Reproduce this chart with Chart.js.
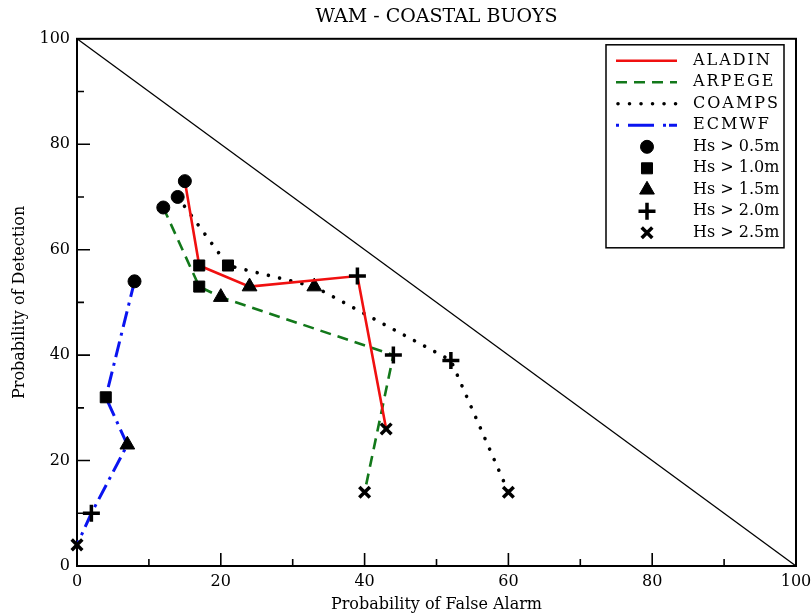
<!DOCTYPE html>
<html>
<head>
<meta charset="utf-8">
<script src="https://cdn.jsdelivr.net/npm/chart.js@4.4.1/dist/chart.umd.min.js"></script>
<style>
  html, body { margin: 0; padding: 0; background: #fff; }
  #wrap { width: 811px; height: 616px; }
</style>
</head>
<body>
<div id="wrap"><canvas id="c" width="811" height="616"></canvas></div>
<script>
// ---- Data ----
const thresholds = ['Hs > 0.5m', 'Hs > 1.0m', 'Hs > 1.5m', 'Hs > 2.0m', 'Hs > 2.5m'];
const aladinX = [15, 17, 24, 39, 43];
const aladinY = [73, 57, 53, 55, 26];
const arpegeX = [12, 17, 20, 44, 40];
const arpegeY = [68, 53, 51, 40, 14];
const coampsX = [14, 21, 33, 52, 60];
const coampsY = [70, 57, 53, 39, 14];
const ecmwfX = [8, 4, 7, 2, 0];
const ecmwfY = [54, 32, 23, 10, 4];
const diagX = [0, 100];
const diagY = [100, 0];
const axisTicks = [0, 20, 40, 60, 80, 100];

const FONT = "'DejaVu Serif', 'Liberation Serif', serif";
const markerStyles = ['circle', 'rect', 'triangle', 'cross', 'crossRot'];
const markerRadius = [6.5, 7.8, 8.5, 8.5, 7.5];
const markerBorder = [1, 1, 1, 3.5, 3.5];

const zip = (xs, ys) => xs.map((x, i) => ({ x: x, y: ys[i] }));

const models = [
  { label: 'ALADIN', xs: aladinX, ys: aladinY, color: '#f01010', dash: [], width: 2.6, cap: 'butt' },
  { label: 'ARPEGE', xs: arpegeX, ys: arpegeY, color: '#12781a', dash: [11, 7], width: 2.6, cap: 'butt' },
  { label: 'COAMPS', xs: coampsX, ys: coampsY, color: '#000000', dash: [0.01, 11.5], width: 3.6, cap: 'round' },
  { label: 'ECMWF', xs: ecmwfX, ys: ecmwfY, color: '#0a14f0', dash: [16, 6, 3, 6], width: 3, cap: 'butt' }
];

const datasets = [{
  label: 'diag',
  data: zip(diagX, diagY),
  showLine: true,
  borderColor: '#000',
  borderWidth: 1.3,
  pointRadius: 0,
  clip: false,
  order: 10
}];
models.forEach(m => {
  datasets.push({
    label: m.label,
    data: zip(m.xs, m.ys),
    showLine: true,
    borderColor: m.color,
    borderWidth: m.width,
    borderDash: m.dash,
    borderCapStyle: m.cap,
    pointStyle: markerStyles,
    pointRadius: markerRadius,
    pointHoverRadius: markerRadius,
    pointBorderWidth: markerBorder,
    pointBackgroundColor: '#000',
    pointBorderColor: '#000',
    clip: false
  });
});

function drawMarker(ctx, style, x, y, r, bw) {
  ctx.save();
  ctx.fillStyle = '#000';
  ctx.strokeStyle = '#000';
  ctx.lineWidth = bw;
  ctx.setLineDash([]);
  ctx.beginPath();
  if (style === 'circle') {
    ctx.arc(x, y, r, 0, Math.PI * 2);
    ctx.fill(); ctx.stroke();
  } else if (style === 'rect') {
    const s = Math.SQRT1_2 * r;
    ctx.rect(x - s, y - s, 2 * s, 2 * s);
    ctx.fill(); ctx.stroke();
  } else if (style === 'triangle') {
    for (let k = 0; k < 3; k++) {
      const a = -Math.PI / 2 + k * 2 * Math.PI / 3;
      const px = x + Math.cos(a) * r, py = y + Math.sin(a) * r;
      if (k === 0) ctx.moveTo(px, py); else ctx.lineTo(px, py);
    }
    ctx.closePath();
    ctx.fill(); ctx.stroke();
  } else if (style === 'cross') {
    ctx.moveTo(x - r, y); ctx.lineTo(x + r, y);
    ctx.moveTo(x, y - r); ctx.lineTo(x, y + r);
    ctx.stroke();
  } else {
    const d = Math.SQRT1_2 * r;
    ctx.moveTo(x - d, y - d); ctx.lineTo(x + d, y + d);
    ctx.moveTo(x - d, y + d); ctx.lineTo(x + d, y - d);
    ctx.stroke();
  }
  ctx.restore();
}

const framePlugin = {
  id: 'frame',
  beforeDatasetsDraw(chart) {
    const { ctx, chartArea: a, scales } = chart;
    ctx.save();
    ctx.strokeStyle = '#000';
    ctx.lineWidth = 2;
    ctx.strokeRect(a.left, a.top, a.right - a.left, a.bottom - a.top);
    ctx.lineWidth = 1.6;
    ctx.beginPath();
    for (let v = 0; v <= 100; v += 10) {
      const len = (v % 20 === 0) ? 13 : 7;
      const px = scales.x.getPixelForValue(v);
      ctx.moveTo(px, a.bottom); ctx.lineTo(px, a.bottom - len);
      const py = scales.y.getPixelForValue(v);
      ctx.moveTo(a.left, py); ctx.lineTo(a.left + len, py);
    }
    ctx.stroke();
    ctx.restore();
  }
};

const legendPlugin = {
  id: 'boxLegend',
  afterDatasetsDraw(chart) {
    const { ctx, chartArea: a } = chart;
    const bx = a.right - 190, by = a.top + 6, bw = 178, bh = 203;
    ctx.save();
    ctx.fillStyle = '#fff';
    ctx.fillRect(bx, by, bw, bh);
    ctx.strokeStyle = '#000';
    ctx.lineWidth = 1.5;
    ctx.strokeRect(bx, by, bw, bh);
    const rowH = 21.5;
    const y0 = by + 16;
    const lx0 = bx + 10, lx1 = bx + 71, mx = bx + 41, tx = bx + 87;
    ctx.font = '16px ' + FONT;
    ctx.textBaseline = 'middle';
    ctx.textAlign = 'left';
    try { ctx.letterSpacing = '2px'; } catch (e) {}
    models.forEach((m, i) => {
      const y = y0 + i * rowH;
      ctx.save();
      ctx.strokeStyle = m.color;
      ctx.lineWidth = m.width;
      ctx.lineCap = m.cap;
      ctx.setLineDash(m.label === 'ECMWF' ? [3, 9, 26, 9, 3] : (m.label === 'COAMPS' ? [0.01, 11.5] : m.dash));
      ctx.beginPath();
      ctx.moveTo(lx0 + (m.label === 'COAMPS' ? 2 : 0), y);
      ctx.lineTo(lx1, y);
      ctx.stroke();
      ctx.restore();
      ctx.fillStyle = '#000';
      ctx.fillText(m.label, tx, y);
    });
    try { ctx.letterSpacing = '0px'; } catch (e) {}
    thresholds.forEach((t, j) => {
      const y = y0 + (models.length + j) * rowH;
      drawMarker(ctx, markerStyles[j], mx, y, markerRadius[j], markerBorder[j]);
      ctx.fillStyle = '#000';
      ctx.fillText(t, tx, y);
    });
    ctx.restore();
  }
};

new Chart(document.getElementById('c'), {
  type: 'scatter',
  data: { datasets: datasets },
  plugins: [framePlugin, legendPlugin],
  options: {
    responsive: false,
    animation: false,
    events: [],
    layout: { padding: { left: 0, right: 15, top: 0, bottom: 0 } },
    plugins: {
      legend: { display: false },
      tooltip: { enabled: false },
      title: {
        display: true,
        text: 'WAM - COASTAL BUOYS',
        fullSize: false,
        color: '#000',
        font: { family: FONT, size: 19, weight: 'normal', lineHeight: 1.2 },
        padding: { top: 6, bottom: 10 }
      }
    },
    scales: {
      x: {
        type: 'linear',
        min: 0, max: 100,
        afterBuildTicks: s => { s.ticks = axisTicks.map(v => ({ value: v })); },
        afterFit: s => { s.height = 50; s.paddingRight = 0; s.paddingLeft = 0; },
        grid: { display: false, drawTicks: false },
        border: { display: false },
        ticks: { color: '#000', padding: 6, maxRotation: 0, font: { family: FONT, size: 16 } },
        title: {
          display: true, text: 'Probability of False Alarm', color: '#000',
          font: { family: FONT, size: 16, lineHeight: 1.2 }, padding: { top: 0, bottom: 2 }
        }
      },
      y: {
        type: 'linear',
        min: 0, max: 100,
        afterBuildTicks: s => { s.ticks = axisTicks.map(v => ({ value: v })); },
        afterFit: s => { s.width = 77; },
        grid: { display: false, drawTicks: false },
        border: { display: false },
        ticks: { color: '#000', padding: 7, font: { family: FONT, size: 16 } },
        title: {
          display: true, text: 'Probability of Detection', color: '#000',
          font: { family: FONT, size: 16, lineHeight: 1.2 }, padding: { top: 10.5, bottom: 0 }
        }
      }
    }
  }
});
</script>
</body>
</html>
